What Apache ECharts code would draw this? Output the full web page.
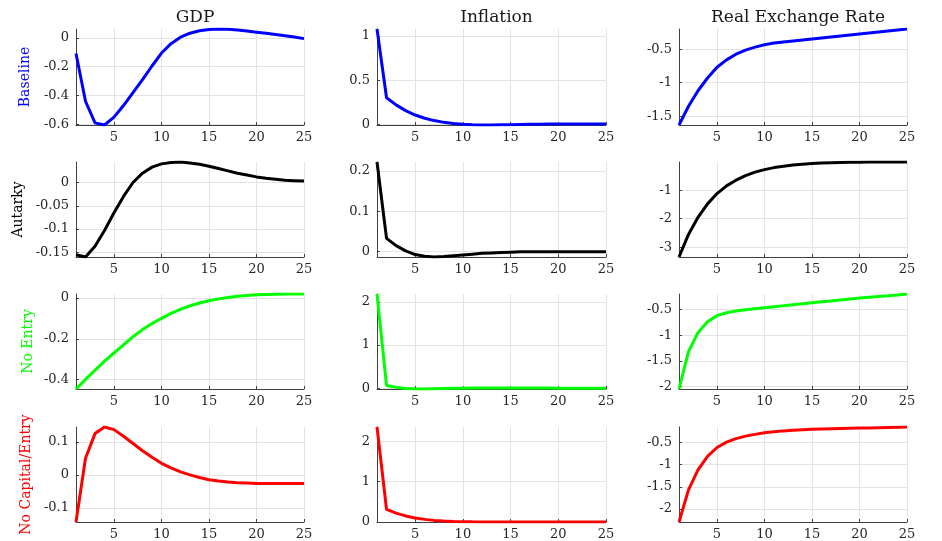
<!DOCTYPE html>
<html>
<head>
<meta charset="utf-8">
<script src="https://cdn.jsdelivr.net/npm/echarts@6/dist/echarts.min.js"></script>
<style>
  html, body { margin: 0; padding: 0; background: #fff; }
  #chart { width: 942px; height: 541px; }
</style>
</head>
<body>
<div id="chart"></div>
<script>
// periods 1..25
var periods = [1,2,3,4,5,6,7,8,9,10,11,12,13,14,15,16,17,18,19,20,21,22,23,24,25];
var colTitles = ['GDP', 'Inflation', 'Real Exchange Rate'];
var rowNames = ['Baseline', 'Autarky', 'No Entry', 'No Capital/Entry'];
var rowColors = ['#0000ff', '#000000', '#00ff00', '#ff0000'];

// Baseline
var baseGdp = [-0.108, -0.44, -0.59, -0.605, -0.55, -0.47, -0.38, -0.29, -0.195, -0.105, -0.04, 0.005, 0.033, 0.05, 0.058, 0.062, 0.06, 0.055, 0.048, 0.04, 0.032, 0.024, 0.015, 0.006, -0.005];
var baseInf = [1.08, 0.30, 0.22, 0.155, 0.105, 0.068, 0.042, 0.022, 0.009, 0.0, -0.005, -0.008, -0.008, -0.006, -0.004, -0.002, 0.0, 0.001, 0.002, 0.003, 0.003, 0.003, 0.003, 0.003, 0.002];
var baseRer = [-1.63, -1.35, -1.12, -0.93, -0.77, -0.66, -0.575, -0.515, -0.47, -0.435, -0.41, -0.395, -0.38, -0.365, -0.35, -0.335, -0.32, -0.305, -0.29, -0.275, -0.26, -0.245, -0.23, -0.215, -0.2];

// Autarky
var autGdp = [-0.155, -0.16, -0.137, -0.103, -0.065, -0.03, 0.0, 0.02, 0.033, 0.04, 0.043, 0.044, 0.042, 0.039, 0.035, 0.03, 0.025, 0.02, 0.016, 0.012, 0.009, 0.007, 0.005, 0.004, 0.003];
var autInf = [0.222, 0.033, 0.015, 0.002, -0.007, -0.011, -0.013, -0.012, -0.01, -0.008, -0.006, -0.004, -0.003, -0.002, -0.001, 0.0, 0.0, 0.0, 0.0, 0.0, 0.0, 0.0, 0.0, 0.0, 0.0];
var autRer = [-3.34, -2.55, -1.95, -1.48, -1.12, -0.85, -0.65, -0.49, -0.37, -0.28, -0.21, -0.16, -0.12, -0.09, -0.07, -0.05, -0.04, -0.03, -0.025, -0.02, -0.018, -0.016, -0.015, -0.014, -0.014];

// No Entry
var neGdp = [-0.447, -0.40, -0.355, -0.31, -0.27, -0.23, -0.19, -0.155, -0.125, -0.10, -0.075, -0.055, -0.038, -0.024, -0.013, -0.004, 0.003, 0.009, 0.013, 0.016, 0.018, 0.019, 0.02, 0.02, 0.02];
var neInf = [2.185, 0.06, 0.02, -0.01, -0.02, -0.02, -0.015, -0.01, -0.005, 0.0, 0.003, 0.005, 0.006, 0.006, 0.005, 0.004, 0.003, 0.002, 0.001, 0.0, 0.0, 0.0, 0.0, 0.0, 0.0];
var neRer = [-2.045, -1.32, -0.95, -0.74, -0.62, -0.565, -0.53, -0.505, -0.485, -0.465, -0.447, -0.43, -0.41, -0.39, -0.37, -0.352, -0.334, -0.316, -0.298, -0.28, -0.265, -0.25, -0.235, -0.218, -0.2];

// No Capital/Entry
var ncGdp = [-0.143, 0.05, 0.125, 0.145, 0.137, 0.117, 0.095, 0.073, 0.053, 0.035, 0.021, 0.009, 0.0, -0.008, -0.015, -0.019, -0.022, -0.024, -0.025, -0.026, -0.026, -0.026, -0.026, -0.026, -0.026];
var ncInf = [2.35, 0.31, 0.22, 0.15, 0.10, 0.065, 0.04, 0.025, 0.015, 0.008, 0.004, 0.002, 0.001, 0.0, 0.0, 0.0, 0.0, 0.0, 0.0, 0.0, 0.0, 0.0, 0.0, 0.0, 0.0];
var ncRer = [-2.29, -1.57, -1.12, -0.82, -0.62, -0.5, -0.42, -0.365, -0.325, -0.29, -0.265, -0.247, -0.233, -0.222, -0.213, -0.206, -0.2, -0.195, -0.19, -0.185, -0.18, -0.175, -0.17, -0.165, -0.16];

var xTicks = [5, 10, 15, 20, 25];
var yTicks = [
  [[-0.6, -0.4, -0.2, 0], [0, 0.5, 1], [-1.5, -1, -0.5]],
  [[-0.15, -0.1, -0.05, 0], [0, 0.1, 0.2], [-3, -2, -1]],
  [[-0.4, -0.2, 0], [0, 1, 2], [-2, -1.5, -1, -0.5]],
  [[-0.1, 0, 0.1], [0, 1, 2], [-2, -1.5, -1, -0.5]]
];
var rows = [
  [baseGdp, baseInf, baseRer],
  [autGdp, autInf, autRer],
  [neGdp, neInf, neRer],
  [ncGdp, ncInf, ncRer]
];

var chart = echarts.init(document.getElementById('chart'));

var gridLeft = [76, 377, 679];
var gridWidth = [228, 229, 228];
var gridTop = [29, 162, 294, 427];
var gridHeight = [96, 95, 95, 95];
var nameGaps = [44, 51, 41, 43];

var grids = [], xAxes = [], yAxes = [], series = [], titles = [];
var tickFont = { fontFamily: 'DejaVu Serif', fontSize: 13, color: '#262626' };

for (var c = 0; c < 3; c++) {
  titles.push({
    text: colTitles[c],
    left: gridLeft[c] + gridWidth[c] / 2,
    top: 4,
    textAlign: 'center',
    textStyle: { fontFamily: 'DejaVu Serif', fontSize: 17, fontWeight: 'normal', color: '#1a1a1a' }
  });
}

for (var r = 0; r < 4; r++) {
  for (var c = 0; c < 3; c++) {
    var i = r * 3 + c;
    var data = rows[r][c];
    grids.push({ left: gridLeft[c], top: gridTop[r], width: gridWidth[c], height: gridHeight[r] });
    xAxes.push({
      type: 'value', gridIndex: i, min: 1, max: 25,
      axisLine: { show: true, onZero: false, lineStyle: { color: '#404040', width: 1 } },
      axisTick: { show: true, inside: true, length: 3, customValues: xTicks, lineStyle: { color: '#404040' } },
      axisLabel: Object.assign({ customValues: xTicks, margin: 6 }, tickFont),
      splitLine: { show: true, lineStyle: { color: '#e3e3e3', width: 1 } }
    });
    yAxes.push({
      type: 'value', gridIndex: i,
      min: Math.min.apply(null, data), max: Math.max.apply(null, data),
      axisLine: { show: true, onZero: false, lineStyle: { color: '#404040', width: 1 } },
      axisTick: { show: true, inside: true, length: 3, customValues: yTicks[r][c], lineStyle: { color: '#404040' } },
      axisLabel: Object.assign({ customValues: yTicks[r][c], margin: 7 }, tickFont),
      splitLine: { show: true, lineStyle: { color: '#e3e3e3', width: 1 } },
      name: c === 0 ? rowNames[r] : '',
      nameLocation: 'middle',
      nameGap: nameGaps[r],
      nameTextStyle: { fontFamily: 'DejaVu Serif', fontSize: 14, color: rowColors[r] }
    });
    series.push({
      type: 'line', xAxisIndex: i, yAxisIndex: i,
      data: periods.map(function (p, k) { return [p, data[k]]; }),
      showSymbol: false, silent: true, animation: false,
      lineStyle: { color: rowColors[r], width: 3 }
    });
  }
}

var option = {
  backgroundColor: '#ffffff',
  animation: false,
  title: titles,
  grid: grids,
  xAxis: xAxes,
  yAxis: yAxes,
  series: series
};
option && chart.setOption(option);
</script>
</body>
</html>
